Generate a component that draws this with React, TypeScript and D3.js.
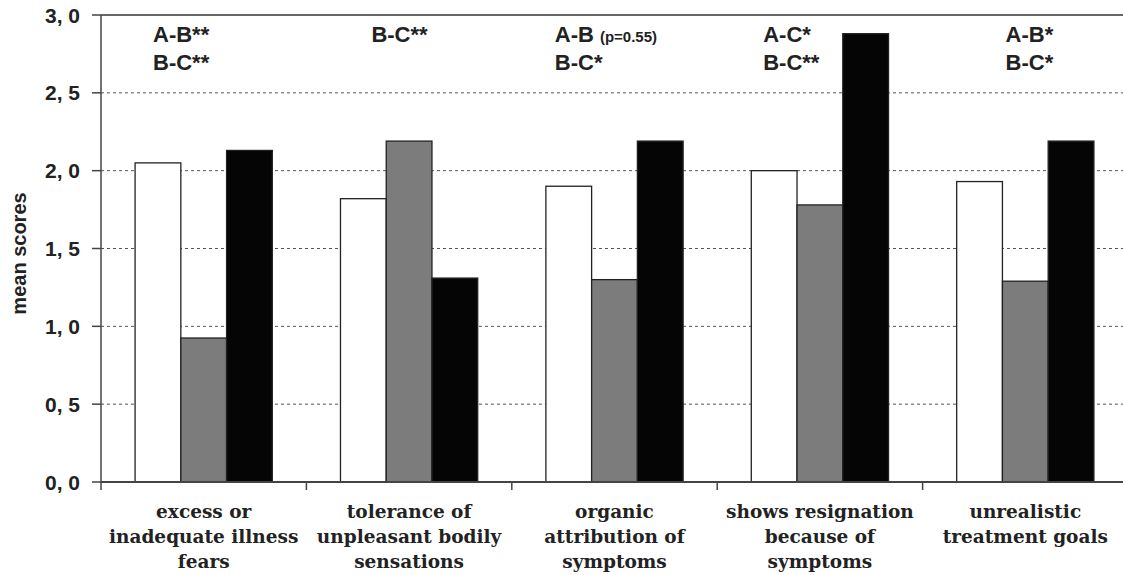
import React, { useEffect, useRef } from 'react';
import * as d3 from 'd3';

// categories (multi-line labels) and the three groups A, B, C
const categories = [
  ['excess or', 'inadequate illness', 'fears'],
  ['tolerance of', 'unpleasant bodily', 'sensations'],
  ['organic', 'attribution of', 'symptoms'],
  ['shows resignation', 'because of', 'symptoms'],
  ['unrealistic', 'treatment goals'],
];
const groups = ['A', 'B', 'C'];
const groupA = [2.05, 1.82, 1.9, 2.0, 1.93];
const groupB = [0.925, 2.19, 1.3, 1.78, 1.29];
const groupC = [2.13, 1.31, 2.19, 2.88, 2.19];
const yTicks = [0, 0.5, 1.0, 1.5, 2.0, 2.5, 3.0];
const notes = [
  ['A-B**', 'B-C**'],
  ['B-C**'],
  ['A-B|(p=0.55)', 'B-C*'],
  ['A-C*', 'B-C**'],
  ['A-B*', 'B-C*'],
];

const App = () => {
  const svgRef = useRef<SVGSVGElement>(null);

  useEffect(() => {
    const W = 1123;
    const H = 575;
    const left = 101;
    const top = 15;
    const bottom = 482;

    const svg = d3.select(svgRef.current);
    svg.selectAll('*').remove();
    svg.attr('width', W).attr('height', H);

    const x0 = d3.scaleBand<number>().domain(d3.range(categories.length)).range([left, 1128]);
    const x1 = d3.scaleBand<string>().domain(groups).range([0, x0.bandwidth()]).paddingOuter(0.745);
    const y = d3.scaleLinear().domain([0, 3]).range([bottom, top]);

    const sans = 'Liberation Sans, Arial, sans-serif';
    const serif = 'DejaVu Serif, serif';

    // grid lines
    svg
      .selectAll('.grid')
      .data(yTicks.filter((d) => d > 0 && d < 3))
      .enter()
      .append('line')
      .attr('x1', left)
      .attr('x2', W)
      .attr('y1', (d) => y(d))
      .attr('y2', (d) => y(d))
      .attr('stroke', '#555')
      .attr('stroke-width', 1)
      .attr('stroke-dasharray', '3,3');

    // top line
    svg
      .append('line')
      .attr('x1', left)
      .attr('x2', W)
      .attr('y1', y(3))
      .attr('y2', y(3))
      .attr('stroke', '#666')
      .attr('stroke-width', 2);

    // bars
    const series = [groupA, groupB, groupC];
    const fills = ['#ffffff', '#7c7c7c', '#050505'];
    const bars = svg.append('g');
    categories.forEach((_, i) => {
      groups.forEach((g, j) => {
        const v = series[j][i];
        bars
          .append('rect')
          .attr('x', x0(i)! + x1(g)!)
          .attr('y', y(v))
          .attr('width', x1.bandwidth())
          .attr('height', y(0) - y(v))
          .attr('fill', fills[j])
          .attr('stroke', '#222')
          .attr('stroke-width', 1.3);
      });
    });

    // y axis
    svg
      .append('line')
      .attr('x1', left)
      .attr('x2', left)
      .attr('y1', y(3))
      .attr('y2', y(0))
      .attr('stroke', '#444')
      .attr('stroke-width', 1.5);
    const yt = svg.selectAll('.ytick').data(yTicks).enter().append('g');
    yt.append('line')
      .attr('x1', left - 9)
      .attr('x2', left)
      .attr('y1', (d) => y(d))
      .attr('y2', (d) => y(d))
      .attr('stroke', '#444')
      .attr('stroke-width', 1.5);
    yt.append('text')
      .attr('x', 80)
      .attr('y', (d) => y(d) + 7.5)
      .attr('text-anchor', 'end')
      .attr('font-family', sans)
      .attr('font-weight', 'bold')
      .attr('font-size', 21)
      .attr('fill', '#222')
      .text((d) => d.toFixed(1).replace('.', ', '));

    svg
      .append('text')
      .attr('transform', `translate(26,${(top + bottom) / 2 + 5}) rotate(-90)`)
      .attr('text-anchor', 'middle')
      .attr('font-family', sans)
      .attr('font-weight', 'bold')
      .attr('font-size', 20)
      .attr('fill', '#222')
      .text('mean scores');

    // x axis
    svg
      .append('line')
      .attr('x1', left)
      .attr('x2', W)
      .attr('y1', y(0))
      .attr('y2', y(0))
      .attr('stroke', '#444')
      .attr('stroke-width', 2);
    svg
      .selectAll('.xtick')
      .data(d3.range(categories.length + 1))
      .enter()
      .append('line')
      .attr('x1', (i) => left + i * x0.step())
      .attr('x2', (i) => left + i * x0.step())
      .attr('y1', y(0))
      .attr('y2', y(0) + 8)
      .attr('stroke', '#444')
      .attr('stroke-width', 1.5);

    // category labels
    categories.forEach((lines, i) => {
      const t = svg
        .append('text')
        .attr('text-anchor', 'middle')
        .attr('font-family', serif)
        .attr('font-weight', 'bold')
        .attr('font-size', 18.5)
        .attr('fill', '#222');
      lines.forEach((l, k) => {
        t.append('tspan')
          .attr('x', x0(i)! + x0.bandwidth() / 2)
          .attr('y', 518 + k * 25)
          .text(l);
      });
    });

    // significance notes, offsets from the band start
    const noteDx = [52, 65, 43, 46, 83];
    notes.forEach((lines, i) => {
      lines.forEach((l, k) => {
        const [main, sub] = l.split('|');
        const t = svg
          .append('text')
          .attr('x', x0(i)! + noteDx[i])
          .attr('y', 42 + k * 28)
          .attr('font-family', sans)
          .attr('font-weight', 'bold')
          .attr('font-size', 22)
          .attr('fill', '#222')
          .text(main);
        if (sub) {
          t.append('tspan').attr('font-size', 15).attr('dx', 6).text(sub);
        }
      });
    });
  }, []);

  return <svg ref={svgRef} style={{ position: 'absolute', left: 0, top: 0, background: '#fff' }}></svg>;
};

export default App;
